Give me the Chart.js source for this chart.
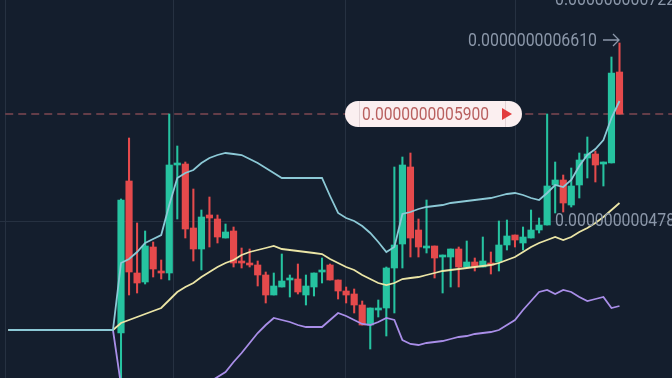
<!DOCTYPE html>
<html>
<head>
<meta charset="utf-8">
<title>Candles</title>
<script src="https://cdn.jsdelivr.net/npm/chart.js@4.4.0/dist/chart.umd.min.js"></script>
<style>
  body { margin: 0; background: #141e2d; }
  #wrap { position: relative; width: 672px; height: 378px; }
</style>
</head>
<body>
<div id="wrap"><canvas id="candleChart"></canvas></div>
<script>
// all prices in units of 1e-10
const open = [3.71,5.23,4.31,4.22,4.57,4.33,4.31,5.39,5.40,4.76,
  4.55,4.89,4.85,4.66,4.73,4.42,4.41,4.39,4.29,4.09,
  4.17,4.24,4.25,4.09,4.17,4.32,4.39,4.24,4.13,4.10,
  3.99,3.79,3.94,3.96,4.36,4.60,5.37,4.74,4.56,4.58,
  4.47,4.47,4.55,4.37,4.42,4.37,4.41,4.42,4.59,4.69,
  4.61,4.66,4.74,4.79,5.19,5.24,4.99,5.19,5.46,5.50,
  5.40,5.41,6.32];
const close = [5.04,4.32,4.21,4.58,4.35,4.31,5.39,5.41,4.75,4.55,
  4.87,4.86,4.67,4.72,4.41,4.41,4.39,4.29,4.09,4.18,
  4.23,4.25,4.12,4.18,4.31,4.33,4.24,4.13,4.09,3.99,
  3.79,3.96,3.96,4.36,4.59,5.39,4.66,4.57,4.57,4.46,
  4.48,4.55,4.37,4.42,4.37,4.43,4.39,4.59,4.68,4.64,
  4.67,4.74,4.79,5.18,5.24,5.01,5.18,5.44,5.50,5.39,
  5.41,6.31,5.90];
const high = [5.05,5.66,4.81,4.73,4.62,4.44,5.90,5.58,5.42,5.15,
  4.94,5.07,4.89,4.80,4.77,4.56,4.55,4.43,4.32,4.31,
  4.50,4.29,4.40,4.29,4.31,4.46,4.40,4.24,4.17,4.15,
  4.03,3.96,4.04,4.37,5.37,5.47,5.51,4.85,5.04,4.58,
  4.49,4.55,4.57,4.63,4.46,4.67,4.52,4.83,4.84,4.69,
  4.77,4.94,4.86,5.90,5.42,5.29,5.36,5.51,5.67,5.53,
  5.42,6.47,6.61];
const low = [3.09,4.09,4.11,4.20,4.27,4.25,4.24,4.85,4.66,4.43,
  4.34,4.57,4.61,4.66,4.37,4.36,4.37,4.18,4.01,4.09,
  4.17,4.07,4.10,3.99,4.08,4.21,4.24,4.05,4.01,3.91,
  3.79,3.55,3.87,3.68,3.91,4.36,4.47,4.47,4.51,4.26,
  4.11,4.17,4.17,4.37,4.33,4.37,4.30,4.33,4.54,4.57,
  4.54,4.66,4.71,4.79,4.91,4.92,4.97,5.06,5.26,5.22,
  5.18,5.41,5.90];

// bollinger bands, first 14 points sit before the first candle
const bandStart = -14;
const upper = [3.74,3.74,3.74,3.74,3.74,3.74,3.74,3.74,3.74,3.74,3.74,3.74,3.74,3.74,
  4.41,4.45,4.52,4.61,4.65,4.69,4.99,5.26,5.31,5.34,
  5.41,5.46,5.49,5.51,5.50,5.49,5.45,5.41,5.36,5.31,
  5.26,5.26,5.26,5.26,5.26,5.26,5.08,4.91,4.86,4.83,
  4.78,4.71,4.62,4.52,4.57,4.90,4.92,4.95,4.97,4.98,
  4.99,5.01,5.02,5.03,5.04,5.05,5.06,5.08,5.10,5.11,
  5.09,5.06,5.04,5.11,5.19,5.17,5.24,5.38,5.49,5.55,
  5.64,5.86,6.03];
const middle = [3.74,3.74,3.74,3.74,3.74,3.74,3.74,3.74,3.74,3.74,3.74,3.74,3.74,3.74,
  3.81,3.84,3.87,3.90,3.93,3.96,4.04,4.12,4.17,4.21,
  4.27,4.32,4.37,4.41,4.44,4.49,4.52,4.54,4.56,4.58,
  4.55,4.54,4.53,4.52,4.51,4.50,4.45,4.41,4.37,4.34,
  4.29,4.25,4.21,4.19,4.21,4.25,4.26,4.27,4.29,4.31,
  4.33,4.34,4.35,4.36,4.37,4.38,4.39,4.41,4.44,4.47,
  4.52,4.57,4.61,4.64,4.67,4.64,4.67,4.72,4.76,4.81,
  4.87,4.94,5.01];
const lower = [3.74,3.74,3.74,3.74,3.74,3.74,3.74,3.74,3.74,3.74,3.74,3.74,3.74,3.74,
  3.19,3.18,3.16,3.14,3.12,3.10,3.06,2.99,3.04,3.08,
  3.14,3.22,3.27,3.32,3.42,3.51,3.61,3.71,3.79,3.86,
  3.84,3.82,3.79,3.77,3.77,3.77,3.84,3.91,3.88,3.84,
  3.80,3.79,3.82,3.86,3.84,3.64,3.60,3.59,3.61,3.62,
  3.63,3.65,3.67,3.68,3.70,3.71,3.72,3.74,3.79,3.84,
  3.94,4.03,4.12,4.14,4.10,4.14,4.12,4.07,4.03,4.05,
  4.07,3.96,3.98];

const lastPrice = 5.90;
const timeGrid = [-14.4, 6.5, 27.9, 49.0];
const priceGrid = [4.83];
const topText = '0.0000000007220';
const highText = '0.0000000006610';
const lowText = '0.0000000004780';
const lastText = '0.0000000005900';

const UP = '#26c3a0', DOWN = '#e54a4c';
const candleIdx = open.map((_, i) => i);
const bandIdx = upper.map((_, i) => i + bandStart);
const candleColor = candleIdx.map(i => close[i] >= open[i] ? UP : DOWN);

const gridPlugin = {
  id: 'grid',
  beforeDatasetsDraw(chart) {
    const c = chart.ctx, xs = chart.scales.x, ys = chart.scales.y, a = chart.chartArea;
    c.save();
    c.strokeStyle = '#263141';
    c.lineWidth = 1;
    timeGrid.forEach(v => {
      const px = Math.round(xs.getPixelForValue(v)) + 0.5;
      c.beginPath(); c.moveTo(px, a.top); c.lineTo(px, a.bottom); c.stroke();
    });
    priceGrid.forEach(v => {
      const py = Math.round(ys.getPixelForValue(v)) + 0.5;
      c.beginPath(); c.moveTo(a.left, py); c.lineTo(a.right, py); c.stroke();
    });
    c.restore();
  }
};

const labelPlugin = {
  id: 'labels',
  afterDatasetsDraw(chart) {
    const c = chart.ctx, ys = chart.scales.y;
    c.save();
    c.font = '18px Roboto';
    c.fillStyle = '#8b97a9';

    // cut-off label at the very top
    c.textBaseline = 'alphabetic';
    c.fillText(topText, 555, 5, 129);

    // highest high
    const yh = ys.getPixelForValue(Math.max(...high)) - 3;
    c.textBaseline = 'middle';
    c.fillText(highText, 468, yh + 1, 129);
    c.strokeStyle = '#8b97a9';
    c.lineWidth = 1.3;
    c.beginPath();
    c.moveTo(603, yh); c.lineTo(619, yh);
    c.moveTo(613, yh - 6); c.lineTo(619, yh); c.lineTo(613, yh + 6);
    c.stroke();

    // lower label
    c.fillText(lowText, 555, ys.getPixelForValue(4.78) - 5, 129);

    // last price pill
    const yp = ys.getPixelForValue(lastPrice);
    const x0 = 345, x1 = 522, h = 26, r = 13;
    c.fillStyle = '#fbeff0';
    c.beginPath();
    c.moveTo(x0 + r, yp - h / 2);
    c.lineTo(x1 - r, yp - h / 2);
    c.arc(x1 - r, yp, r, -Math.PI / 2, Math.PI / 2);
    c.lineTo(x0 + r, yp + h / 2);
    c.arc(x0 + r, yp, r, Math.PI / 2, Math.PI * 1.5);
    c.closePath();
    c.fill();
    c.strokeStyle = '#e3d3d6';
    c.lineWidth = 1;
    c.beginPath();
    c.moveTo(359.5, yp - h / 2); c.lineTo(359.5, yp + h / 2);
    c.moveTo(505.5, yp - h / 2); c.lineTo(505.5, yp + h / 2);
    c.stroke();
    c.fillStyle = '#b9605f';
    c.fillText(lastText, 362, yp + 1, 127);
    c.fillStyle = '#e23c3e';
    c.beginPath();
    c.moveTo(502, yp - 6); c.lineTo(512, yp); c.lineTo(502, yp + 6);
    c.closePath();
    c.fill();
    c.restore();
  }
};

const bandLine = (label, data, color) => ({
  type: 'line', label,
  data: bandIdx.map((x, i) => ({ x, y: data[i] })),
  borderColor: color, borderWidth: 1.8,
  pointRadius: 0, tension: 0, order: 0
});

new Chart(document.getElementById('candleChart'), {
  type: 'bar',
  data: {
    datasets: [
      {
        type: 'line', label: 'last',
        data: [{ x: -14.4, y: lastPrice }, { x: 69, y: lastPrice }],
        borderColor: '#7d4852', borderWidth: 1.3, borderDash: [8, 5],
        pointRadius: 0, order: 4
      },
      {
        label: 'wick',
        data: candleIdx.map(i => ({ x: i, y: [low[i], high[i]] })),
        backgroundColor: candleColor,
        barThickness: 1.4, grouped: false, order: 3
      },
      {
        label: 'body',
        data: candleIdx.map(i => ({ x: i, y: [open[i], close[i]] })),
        backgroundColor: candleColor,
        barThickness: 6.5, minBarLength: 2, grouped: false, order: 2
      },
      bandLine('upper', upper, '#8cc9d6'),
      bandLine('middle', middle, '#ebe5a6'),
      bandLine('lower', lower, '#a98ee8')
    ]
  },
  options: {
    responsive: true,
    maintainAspectRatio: false,
    animation: false,
    layout: { padding: 0 },
    plugins: { legend: { display: false }, tooltip: { enabled: false } },
    scales: {
      x: { type: 'linear', display: false, offset: false, min: -15.05, max: 68.53 },
      y: { type: 'linear', display: false, min: 3.26, max: 7.04 }
    }
  },
  plugins: [gridPlugin, labelPlugin]
});
</script>
</body>
</html>
